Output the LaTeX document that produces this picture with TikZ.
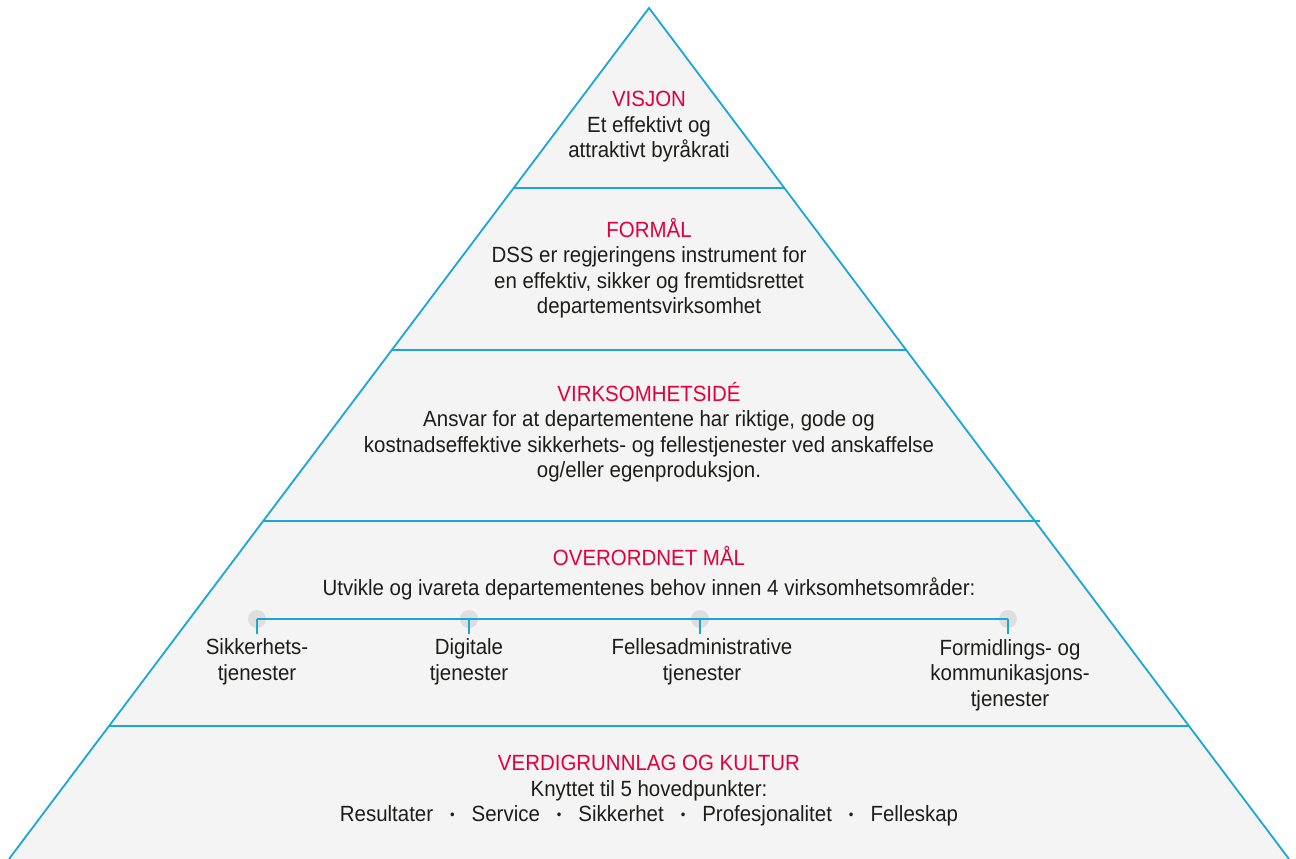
\documentclass[tikz,border=0pt]{standalone}
\usepackage{fontspec}
\setmainfont{Liberation Sans}[FakeStretch=0.93]
\definecolor{dssblue}{HTML}{1BA6D9}
\definecolor{dssred}{HTML}{E2003C}
\definecolor{paper}{HTML}{F4F4F4}
\definecolor{dotgray}{HTML}{DEDEDE}
\definecolor{ink}{HTML}{1D1D1B}
\newcommand\punkt{\hspace{17pt}\raisebox{2pt}{\fontsize{14}{14}\selectfont\textbullet}\hspace{17pt}}
\newcommand\tittel[1]{\textcolor{dssred}{#1}}
\begin{document}
\begin{tikzpicture}[x=1pt,y=-1pt,
    edge/.style={dssblue,line width=1.8pt},
    txt/.style={align=center,text=ink,inner sep=0pt,font=\fontsize{22}{25.5}\selectfont},
    dot/.style={circle,fill=dotgray,minimum size=18pt,inner sep=0pt}]
  \useasboundingbox (0,0) rectangle (1296,859);

  % pyramid
  \fill [paper] (649,8) -- (9,859) -- (1289,859) -- cycle;
  \draw [edge] (9,859) -- (649,8) -- (1289,859);
  \draw [edge] (513.6,188) -- (784.4,188);
  \draw [edge] (391.8,350) -- (906.2,350);
  \draw [edge] (263.2,521) -- (1040,521);
  \draw [edge] (109,726) -- (1189,726);

  % layers
  \node [txt] (visjon) at (649,127) {\tittel{VISJON}\\Et effektivt og\\attraktivt byråkrati};
  \node [txt] (formaal) at (649,268) {\tittel{FORMÅL}\\DSS er regjeringens instrument for\\en effektiv, sikker og fremtidsrettet\\departementsvirksomhet};
  \node [txt] (ide) at (649,432) {\tittel{VIRKSOMHETSIDÉ}\\Ansvar for at departementene har riktige, gode og\\kostnadseffektive sikkerhets- og fellestjenester ved anskaffelse\\og/eller egenproduksjon.};
  \node [txt] (maal) at (649,573) {\tittel{OVERORDNET MÅL}\\[5pt]Utvikle og ivareta departementenes behov innen 4 virksomhetsområder:};
  \node [txt] (verdi) at (649,791) {\tittel{VERDIGRUNNLAG OG KULTUR}\\Knyttet til 5 hovedpunkter:\\Resultater\punkt Service\punkt Sikkerhet\punkt Profesjonalitet\punkt Felleskap};

  % areas
  \foreach \n/\x in {1/257,2/469,3/700,4/1008} {
    \node [dot] (dot\n) at (\x,619) {};
    \coordinate (stem\n) at (\x,634);
  }
  \draw [edge] (dot1.center) -- (dot4.center);
  \foreach \n in {1,...,4}
    \draw [edge] (dot\n.center) -- (stem\n);

  \node [txt] (sikker) at (257,662) {Sikkerhets-\\tjenester};
  \node [txt] (digital) at (469,662) {Digitale\\tjenester};
  \node [txt] (felles) at (702,662) {Fellesadministrative\\tjenester};
  \node [txt] (formidling) at (1010,675) {Formidlings- og\\kommunikasjons-\\tjenester};
\end{tikzpicture}
\end{document}
